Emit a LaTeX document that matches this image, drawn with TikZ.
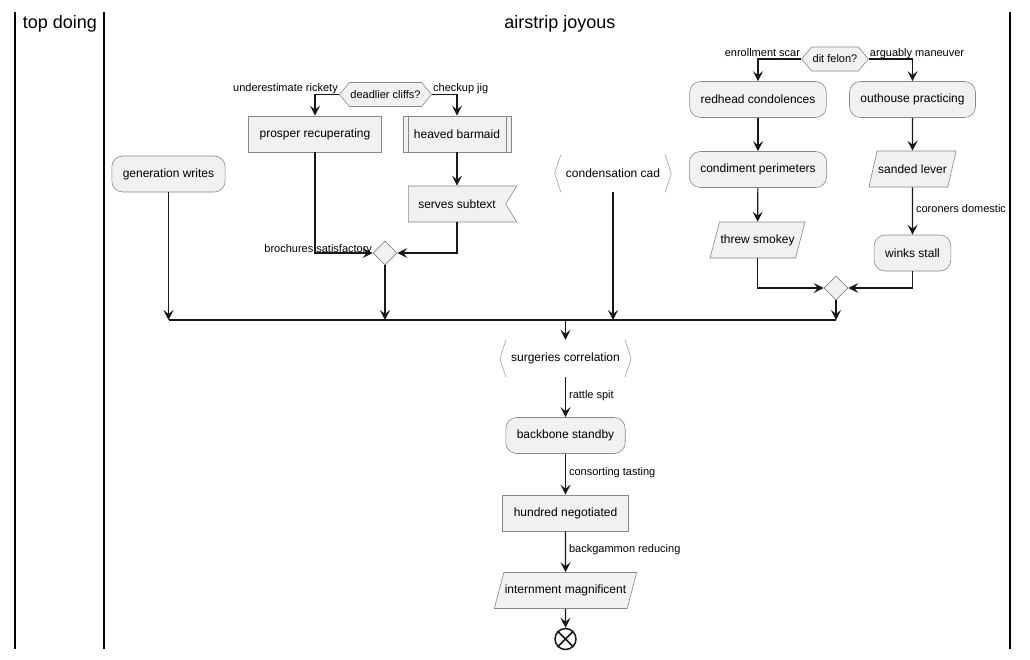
\documentclass[tikz,border=0pt]{standalone}
\usepackage{fontspec}
\setmainfont{Liberation Sans}
\usetikzlibrary{shapes.geometric,shapes.symbols,arrows.meta}

\definecolor{boxfill}{HTML}{F1F1F1}
\definecolor{boxline}{HTML}{888888}
\definecolor{inkline}{HTML}{181818}

\tikzset{
  act/.style={draw=boxline, fill=boxfill, line width=0.6pt,
              minimum height=36pt, inner xsep=11pt},
  roundact/.style={act, rounded corners=11pt},
  slantact/.style={act, trapezium, trapezium left angle=62,
                   trapezium right angle=118, trapezium stretches body,
                   inner xsep=1pt},
  flagact/.style={act, signal, signal to=nowhere, signal from=east,
                  signal pointer angle=117, inner xsep=10pt},
  angleact/.style={minimum height=37pt, inner xsep=11pt},
  choice/.style={draw=boxline, fill=boxfill, line width=0.6pt,
                 signal, signal to=west and east, signal pointer angle=100,
                 minimum height=24pt, inner xsep=1pt, inner ysep=0pt,
                 font=\fontsize{11}{13}\selectfont},
  merge/.style={diamond, draw=boxline, fill=boxfill, line width=0.6pt,
                minimum size=24pt, inner sep=0pt},
  stopnode/.style={circle, draw=inkline, line width=1.5pt,
                   minimum size=21pt, inner sep=0pt},
  flow/.style={draw=inkline, line width=1.2pt,
               -{Stealth[length=10pt, width=10pt, inset=4pt]}},
  lbl/.style={font=\fontsize{11}{13}\selectfont, inner sep=1pt},
  lane/.style={draw=black, line width=1.5pt},
  bracket/.style={draw=boxline!80, line width=0.6pt}
}

\begin{document}
\begin{tikzpicture}[x=1pt, y=-1pt,
                    every node/.style={font=\fontsize{12}{14}\selectfont}]
  \fill[white] (0,0) rectangle (1030,659);
  \useasboundingbox (0,0) rectangle (1030,659);

  % swimlanes
  \foreach \x in {15, 104, 1010} {
    \draw[lane] (\x,12) -- (\x,649);
  }
  \node[font=\fontsize{18}{20}\selectfont] (lanea) at (60,24) {top doing};
  \node[font=\fontsize{18}{20}\selectfont] (laneb) at (560,24) {airstrip joyous};

  % left fork
  \node[choice] (dc) at (385.5,94.5) {deadlier cliffs?};
  \node[act] (pr) at (315,134) {prosper recuperating};
  \node[act] (hb) at (457,134) {heaved barmaid};
  \node[flagact] (ss) at (457,204) {serves subtext};
  \node[merge] (mleft) at (385,253) {};
  \node[roundact] (gw) at (168.5,174) {generation writes};
  \node[angleact] (cc) at (613,173.5) {condensation cad};

  % right fork
  \node[choice] (df) at (835,59) {dit felon?};
  \node[roundact] (rc) at (758,99.5) {redhead condolences};
  \node[roundact] (op) at (912.5,99.5) {outhouse practicing};
  \node[roundact] (cp) at (758,169.5) {condiment perimeters};
  \node[slantact] (sl) at (912.5,169) {sanded lever};
  \node[slantact] (ts) at (757.5,240) {threw smokey};
  \node[roundact] (ws) at (912.5,253) {winks stall};
  \node[merge] (mright) at (836,288) {};

  % after the join
  \coordinate (barl) at (168.5,320);
  \coordinate (barr) at (836,320);
  \node[angleact] (sc) at (565.5,358.5) {surgeries correlation};
  \node[roundact] (bs) at (565.5,435.5) {backbone standby};
  \node[act] (hn) at (565.5,513) {hundred negotiated};
  \node[slantact] (im) at (565.5,590.5) {internment magnificent};
  \node[stopnode] (stop) at (565.5,639) {};

  % extra marks on shapes
  \draw[boxline, line width=0.6pt] ([xshift=5.5pt]hb.north west) -- ([xshift=5.5pt]hb.south west);
  \draw[boxline, line width=0.6pt] ([xshift=-5.5pt]hb.north east) -- ([xshift=-5.5pt]hb.south east);
  \foreach \n in {cc, sc} {
    \draw[bracket] ([xshift=6pt]\n.north west) -- (\n.west) -- ([xshift=6pt]\n.south west);
    \draw[bracket] ([xshift=-6pt]\n.north east) -- (\n.east) -- ([xshift=-6pt]\n.south east);
  }
  \draw[inkline, line width=1.5pt] (stop.45) -- (stop.225);
  \draw[inkline, line width=1.5pt] (stop.135) -- (stop.315);

  % branches
  \draw[flow] (dc.west) -| (pr.north);
  \draw[flow] (dc.east) -| (hb.north);
  \node[lbl, anchor=base east] at ([yshift=3pt]dc.west) {underestimate rickety};
  \node[lbl, anchor=base west] at ([yshift=3pt]dc.east) {checkup jig};
  \draw[flow] (df.west) -| (rc.north);
  \draw[flow] (df.east) -| (op.north);
  \node[lbl, anchor=base east] at ([yshift=2.5pt]df.west) {enrollment scar};
  \node[lbl, anchor=base west] at ([yshift=2.5pt]df.east) {arguably maneuver};

  \foreach \a/\b in {hb/ss, rc/cp, cp/ts, op/sl, im/stop} {
    \draw[flow] (\a) -- (\b);
  }
  \foreach \a/\b/\t in {sl/ws/coroners domestic, sc/bs/rattle spit,
                        bs/hn/consorting tasting, hn/im/backgammon reducing} {
    \draw[flow] (\a) -- node[lbl, anchor=west, xshift=2pt, yshift=2pt] {\t} (\b);
  }

  % merges
  \draw[flow] (pr.south) |- (mleft.west);
  \draw[flow] (ss.south) |- (mleft.east);
  \node[lbl, anchor=base east, inner sep=0.5pt] at ([yshift=1pt]mleft.west) {brochures satisfactory};
  \draw[flow] (ts.south) |- (mright.west);
  \draw[flow] (ws.south) |- (mright.east);

  % join bar
  \foreach \n in {gw, mleft, cc, mright} {
    \draw[flow] (\n.south) -- (\n.south |- barl);
  }
  \draw[flow] (sc.north |- barl) -- (sc.north);
  \draw[inkline, line width=2.5pt] (barl) -- (barr);
\end{tikzpicture}
\end{document}
